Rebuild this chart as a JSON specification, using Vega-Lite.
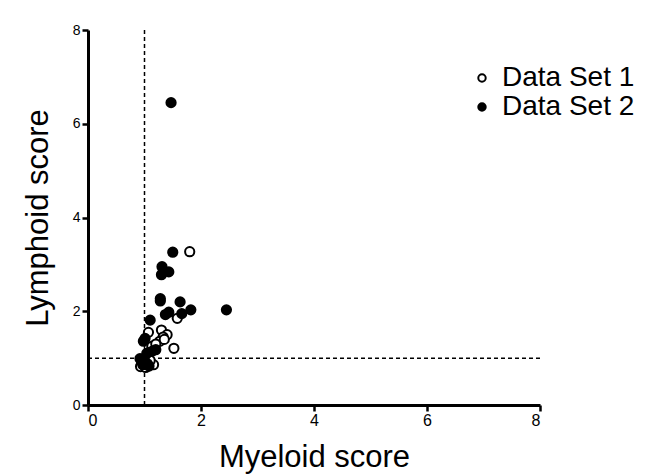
{
  "$schema": "https://vega.github.io/schema/vega-lite/v6.json",
  "width": 452,
  "height": 375,
  "autosize": {"type": "none"},
  "padding": {"left": 88, "top": 30, "right": 112, "bottom": 69},
  "background": "white",
  "config": {
    "font": "Liberation Sans",
    "view": {"stroke": null},
    "axis": {
      "grid": false,
      "domainColor": "black",
      "domainWidth": 3,
      "tickColor": "black",
      "tickWidth": 2.5,
      "tickSize": 6,
      "labelColor": "black",
      "labelFontSize": 15,
      "labelFont": "Liberation Sans",
      "titleFont": "Liberation Sans",
      "titleFontSize": 31,
      "titleFontWeight": "normal",
      "titleColor": "black"
    }
  },
  "datasets": {
    "pts": [
      {"set": "Data Set 1", "myeloid": 1.80, "lymphoid": 3.27},
      {"set": "Data Set 1", "myeloid": 1.58, "lymphoid": 1.85},
      {"set": "Data Set 1", "myeloid": 1.30, "lymphoid": 1.60},
      {"set": "Data Set 1", "myeloid": 1.07, "lymphoid": 1.55},
      {"set": "Data Set 1", "myeloid": 1.40, "lymphoid": 1.50},
      {"set": "Data Set 1", "myeloid": 1.33, "lymphoid": 1.45},
      {"set": "Data Set 1", "myeloid": 1.27, "lymphoid": 1.36},
      {"set": "Data Set 1", "myeloid": 1.35, "lymphoid": 1.40},
      {"set": "Data Set 1", "myeloid": 1.13, "lymphoid": 1.25},
      {"set": "Data Set 1", "myeloid": 1.52, "lymphoid": 1.21},
      {"set": "Data Set 1", "myeloid": 1.08, "lymphoid": 1.12},
      {"set": "Data Set 1", "myeloid": 1.05, "lymphoid": 1.05},
      {"set": "Data Set 1", "myeloid": 1.16, "lymphoid": 0.86},
      {"set": "Data Set 1", "myeloid": 0.93, "lymphoid": 0.82},
      {"set": "Data Set 1", "myeloid": 1.00, "lymphoid": 0.90},
      {"set": "Data Set 1", "myeloid": 1.10, "lymphoid": 0.95},
      {"set": "Data Set 1", "myeloid": 1.20, "lymphoid": 1.30},
      {"set": "Data Set 1", "myeloid": 1.02, "lymphoid": 0.80},
      {"set": "Data Set 2", "myeloid": 1.47, "lymphoid": 6.45},
      {"set": "Data Set 2", "myeloid": 1.50, "lymphoid": 3.26},
      {"set": "Data Set 2", "myeloid": 1.31, "lymphoid": 2.95},
      {"set": "Data Set 2", "myeloid": 1.43, "lymphoid": 2.84},
      {"set": "Data Set 2", "myeloid": 1.30, "lymphoid": 2.78},
      {"set": "Data Set 2", "myeloid": 1.28, "lymphoid": 2.27},
      {"set": "Data Set 2", "myeloid": 1.28, "lymphoid": 2.22},
      {"set": "Data Set 2", "myeloid": 1.63, "lymphoid": 2.20},
      {"set": "Data Set 2", "myeloid": 1.43, "lymphoid": 1.98},
      {"set": "Data Set 2", "myeloid": 1.37, "lymphoid": 1.93},
      {"set": "Data Set 2", "myeloid": 1.82, "lymphoid": 2.03},
      {"set": "Data Set 2", "myeloid": 1.66, "lymphoid": 1.95},
      {"set": "Data Set 2", "myeloid": 2.45, "lymphoid": 2.03},
      {"set": "Data Set 2", "myeloid": 1.10, "lymphoid": 1.81},
      {"set": "Data Set 2", "myeloid": 1.01, "lymphoid": 1.42},
      {"set": "Data Set 2", "myeloid": 0.98, "lymphoid": 1.36},
      {"set": "Data Set 2", "myeloid": 1.14, "lymphoid": 1.15},
      {"set": "Data Set 2", "myeloid": 1.04, "lymphoid": 1.10},
      {"set": "Data Set 2", "myeloid": 0.92, "lymphoid": 0.99},
      {"set": "Data Set 2", "myeloid": 0.97, "lymphoid": 0.86},
      {"set": "Data Set 2", "myeloid": 1.05, "lymphoid": 0.88},
      {"set": "Data Set 2", "myeloid": 1.00, "lymphoid": 0.95},
      {"set": "Data Set 2", "myeloid": 1.20, "lymphoid": 1.18},
      {"set": "Data Set 2", "myeloid": 0.95, "lymphoid": 0.92},
      {"set": "Data Set 2", "myeloid": 1.08, "lymphoid": 0.83}
    ],
    "refs": [{"v": 1}]
  },
  "layer": [
    {
      "data": {"name": "refs"},
      "mark": {"type": "rule", "strokeDash": [4, 3], "strokeWidth": 1.5, "color": "black"},
      "encoding": {"x": {"field": "v", "type": "quantitative"}}
    },
    {
      "data": {"name": "refs"},
      "mark": {"type": "rule", "strokeDash": [4, 3], "strokeWidth": 1.5, "color": "black"},
      "encoding": {"y": {"field": "v", "type": "quantitative"}}
    },
    {
      "data": {"name": "pts"},
      "mark": {"type": "point", "shape": "circle", "size": 85, "strokeWidth": 2, "stroke": "black", "opacity": 1, "filled": false},
      "encoding": {
        "x": {
          "field": "myeloid", "type": "quantitative",
          "scale": {"domain": [0, 8], "nice": false, "zero": true},
          "axis": {"values": [0, 2, 4, 6, 8], "format": "d", "title": "Myeloid score", "titlePadding": 14, "labelPadding": 1, "labelFontSize": 16, "domainWidth": 3, "tickWidth": 2.5}
        },
        "y": {
          "field": "lymphoid", "type": "quantitative",
          "scale": {"domain": [0, 8], "nice": false},
          "axis": {"values": [0, 2, 4, 6, 8], "format": "d", "title": "Lymphoid score", "titlePadding": 18, "labelPadding": 2, "labelFontSize": 14, "domainWidth": 3, "tickWidth": 2.5}
        },
        "fill": {
          "field": "set", "type": "nominal",
          "scale": {"domain": ["Data Set 1", "Data Set 2"], "range": ["white", "black"]},
          "legend": {
            "title": null,
            "orient": "none",
            "legendX": 380,
            "legendY": 34,
            "labelFontSize": 28,
            "labelFont": "Liberation Sans",
            "labelColor": "black",
            "symbolType": "circle",
            "symbolSize": 55,
            "symbolStrokeWidth": 2,
            "symbolStrokeColor": "black",
            "rowPadding": 1,
            "labelOffset": 6
          }
        }
      }
    }
  ]
}
